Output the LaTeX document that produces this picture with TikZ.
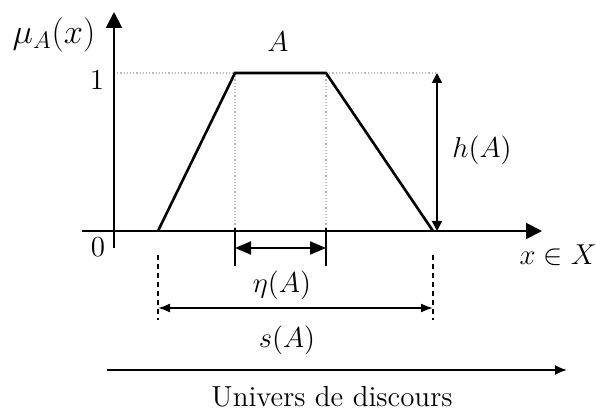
\documentclass[tikz,border=0pt]{standalone}
\usetikzlibrary{arrows.meta}
\begin{document}
\begin{tikzpicture}[x=0.5pt,y=-0.5pt,
  axis/.style={line width=1pt,-{Triangle[length=8pt,width=8pt]}},
  curve/.style={line width=1.3pt,line join=miter},
  guide/.style={gray!55,line width=0.6pt,densely dotted},
  dashv/.style={line width=0.9pt,dash pattern=on 2.5pt off 2pt},
  harrow/.style={line width=0.9pt,{Triangle[length=5pt,width=5pt]}-{Triangle[length=5pt,width=5pt]}},
  earrow/.style={line width=1pt,{Triangle[length=8pt,width=6.5pt]}-{Triangle[length=8pt,width=6.5pt]}},
  sarrow/.style={line width=0.9pt,{Latex[length=6pt,width=4.5pt]}-{Latex[length=6pt,width=4.5pt]}},
  uarrow/.style={line width=0.9pt,-{Latex[length=6pt,width=5pt]}},
  lbl/.style={inner sep=0pt,font=\fontsize{14.5}{17}\selectfont}]
\useasboundingbox (0,0) rectangle (596,410);
% coordinates
\coordinate (ybot) at (114,248);
\coordinate (ytop) at (114,12);
\coordinate (xl) at (82,231);
\coordinate (xr) at (542,231);
\coordinate (p1) at (158,231);
\coordinate (p2) at (235,73);
\coordinate (p3) at (326,73);
\coordinate (p4) at (433,231);
\coordinate (y1) at (114,73);
\coordinate (q2) at (235,231);
\coordinate (q3) at (326,231);
\coordinate (ht) at (437,73);
\coordinate (hb) at (437,231);
\coordinate (el) at (235,248);
\coordinate (er) at (326,248);
\coordinate (d1t) at (158,255);
\coordinate (d1b) at (158,320);
\coordinate (d2t) at (433,255);
\coordinate (d2b) at (433,320);
\coordinate (sl) at (158,308);
\coordinate (sr) at (433,308);
\coordinate (ul) at (107,370);
\coordinate (ur) at (567,370);
% guides
\draw[guide] (y1) -- (p2);
\draw[guide] (p3) -- (ht);
\draw[guide] (p2) -- (q2);
\draw[guide] (p3) -- (q3);
% axes
\draw[axis] (ybot) -- (ytop);
\draw[axis] (xl) -- (xr);
% trapezoid
\draw[curve] (p1) -- (p2) -- (p3) -- (p4);
% height
\draw[harrow] (ht) -- (hb);
% kernel
\draw[earrow] (el) -- (er);
\draw[line width=1pt] ([yshift=-9]el) -- ([yshift=10]el);
\draw[line width=1pt] ([yshift=-9]er) -- ([yshift=10]er);
% support
\draw[dashv] (d1t) -- (d1b);
\draw[dashv] (d2t) -- (d2b);
\draw[sarrow] (sl) -- (sr);
% universe
\draw[uarrow] (ul) -- (ur);
% labels
\node[lbl,font=\fontsize{16.5}{19}\selectfont] (mu) at (54,35) {$\mu_{A}(x)$};
\node[lbl] (A) at (278,42) {$A$};
\node[lbl] (one) at (97,80) {1};
\node[lbl] (zero) at (98,247) {0};
\node[lbl] (hA) at (482,150) {$h(A)$};
\node[lbl] (xX) at (558,255) {$x\in X$};
\node[lbl] (eA) at (282,285) {$\eta(A)$};
\node[lbl] (sA) at (287,340) {$s(A)$};
\node[lbl,anchor=base] (U) at (332,407) {Univers de discours};
\end{tikzpicture}
\end{document}
